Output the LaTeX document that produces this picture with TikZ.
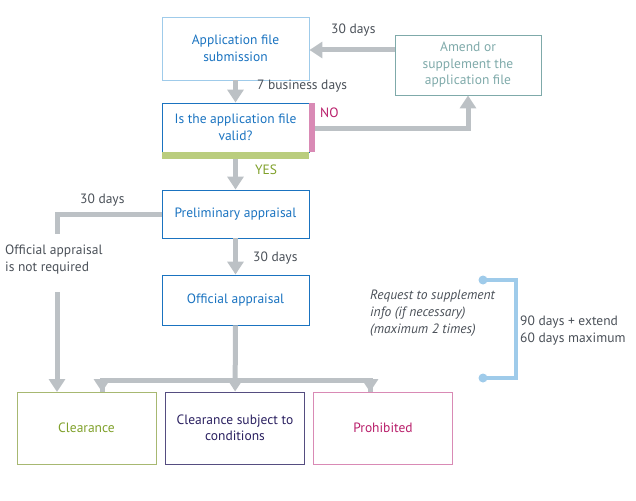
\documentclass[tikz,border=0pt]{standalone}
\usepackage{fontspec}
\setmainfont{PT Sans}
\usetikzlibrary{arrows.meta}
\definecolor{gr}{HTML}{BCC1C5}
\definecolor{bl}{HTML}{1A73C0}
\definecolor{lbl}{HTML}{9FCBEA}
\definecolor{teal}{HTML}{7FAAAA}
\definecolor{pk}{HTML}{D98AB5}
\definecolor{lg}{HTML}{BACD7E}
\definecolor{cg}{HTML}{7FA02A}
\definecolor{nv}{HTML}{2A2060}
\definecolor{mg}{HTML}{B81E6A}
\definecolor{tx}{HTML}{4A5058}
\begin{document}
\begin{tikzpicture}[x=1pt,y=-1pt,font=\fontsize{13.5}{16.5}\selectfont,
 box/.style={draw=bl,line width=0.9pt,text=bl,align=center,minimum width=147pt,inner sep=0pt},
 res/.style={draw,line width=0.9pt,align=center,minimum width=139pt,minimum height=72pt,inner sep=0pt},
 arr/.style={draw=gr,line width=5pt,-{Triangle[length=13pt,width=16pt]}},
 ln/.style={draw=gr,line width=5pt},
 lab/.style={text=tx,anchor=west,inner sep=0pt}]
\useasboundingbox (0,0) rectangle (636,500);
\node[box,draw=lbl,minimum height=63pt] (sub) at (235.5,48.5) {Application file\\submission};
\node[box,draw=teal,text=teal,minimum width=146pt,minimum height=60pt] (am) at (468,65) {Amend or\\supplement the\\application file};
\node[box,minimum height=49pt] (val) at (235.5,127.5) {Is the application file\\valid?};
\fill[pk] (309,103) rectangle (315,152);
\fill[lg] (162,152) rectangle (309,159);
\coordinate (vb) at (235.5,159);
\coordinate (vr) at (315,128);
\node[box,minimum height=48pt] (pre) at (235.5,214) {Preliminary appraisal};
\node[box,minimum height=50pt] (off) at (235.5,300) {Official appraisal};
\node[res,draw=lg!90!black,text=cg] (cl) at (86.5,428) {Clearance};
\node[res,draw=nv!80,text=nv] (cc) at (235,428) {Clearance subject to\\conditions};
\node[res,draw=pk,text=mg] (pr) at (383,428) {Prohibited};
% arrows
\draw[arr] (am.west|-0,50) -- (sub.east|-0,50);
\node[lab] at (331,30) {30 days};
\draw[arr] (sub) -- (val);
\node[lab] at (257,86) {7 business days};
\draw[arr] (vr) -| (am.south);
\node[lab,text=mg] at (320,113) {NO};
\draw[arr] (vb) -- (pre);
\node[lab,text=cg] at (255,170) {YES};
\draw[ln] (pre.west) -| (57,234);
\coordinate (fs) at (57,292);
\draw[arr] (fs) -- (57,392);
\node[lab] at (80,200) {30 days};
\node[lab,align=left,anchor=north west] at (5,245) {Official appraisal\\is not required};
\draw[arr] (pre) -- (off);
\node[lab] at (253,258) {30 days};
\draw[arr] (off) -- (cc);
\draw[ln] (102,392) -- (102,380) -- (370,380) -- (370,392);
\draw[arr] (102,380) -- (102,392);
\draw[arr] (370,380) -- (370,392);
% bracket
\coordinate (b1) at (483,280); \coordinate (b2) at (483,378);
\draw[lbl,line width=3.5pt] (b1) -- (516,280) -- (516,378) -- (b2);
\fill[lbl] (b1) circle (4.5pt) (b2) circle (4.5pt);
\node[lab,align=left,anchor=north west,font=\fontsize{13.5}{17}\selectfont\itshape] at (370,290) {Request to supplement\\info (if necessary)\\(maximum 2 times)};
\node[lab,align=left,anchor=north west,font=\fontsize{13.5}{17}\selectfont] at (520,316) {90 days + extend\\60 days maximum};
\end{tikzpicture}
\end{document}
